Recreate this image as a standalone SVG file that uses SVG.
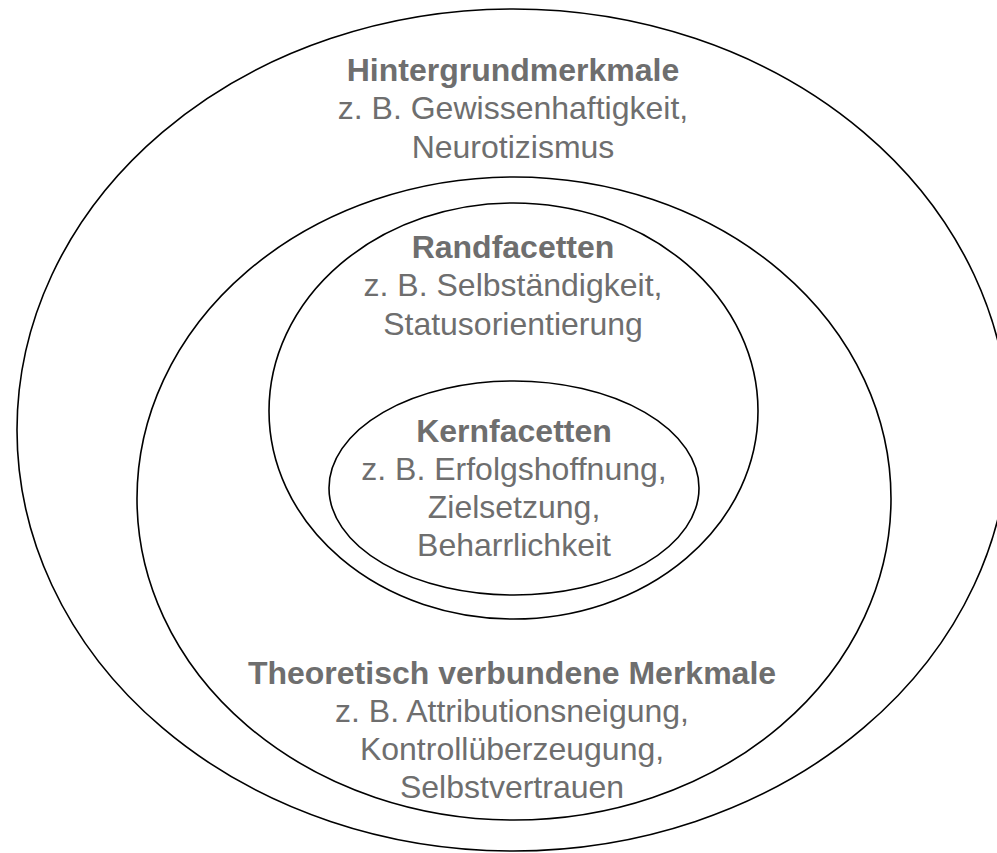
<svg xmlns="http://www.w3.org/2000/svg" width="997" height="853" viewBox="0 0 997 853">
<style>
.ring{fill:none;stroke:#000;stroke-width:1.6}
text{font-family:"Liberation Sans",Arial,sans-serif;font-size:32px;fill:#6e6e6e;text-anchor:middle}
.h{font-weight:bold}
</style>
<rect width="997" height="853" fill="#fff"/>
<g id="hintergrund">
<ellipse class="ring" cx="513" cy="430" rx="496" ry="421"/>
<text x="513" y="81" class="h">Hintergrundmerkmale</text>
<text x="513" y="119">z. B. Gewissenhaftigkeit,</text>
<text x="513" y="158">Neurotizismus</text>
</g>
<g id="theoretisch">
<ellipse class="ring" cx="514" cy="498.5" rx="377" ry="321.5"/>
<text x="512" y="684" class="h">Theoretisch verbundene Merkmale</text>
<text x="512" y="722">z. B. Attributionsneigung,</text>
<text x="512" y="760">Kontrollüberzeugung,</text>
<text x="512" y="798">Selbstvertrauen</text>
</g>
<g id="rand">
<ellipse class="ring" cx="513.5" cy="411" rx="244.5" ry="208"/>
<text x="513" y="258" class="h">Randfacetten</text>
<text x="513" y="296">z. B. Selbständigkeit,</text>
<text x="513" y="335">Statusorientierung</text>
</g>
<g id="kern">
<ellipse class="ring" cx="514" cy="488" rx="185" ry="107"/>
<text x="514" y="442" class="h">Kernfacetten</text>
<text x="514" y="480">z. B. Erfolgshoffnung,</text>
<text x="514" y="518">Zielsetzung,</text>
<text x="514" y="556">Beharrlichkeit</text>
</g>
<g id="connectors"/>
</svg>
